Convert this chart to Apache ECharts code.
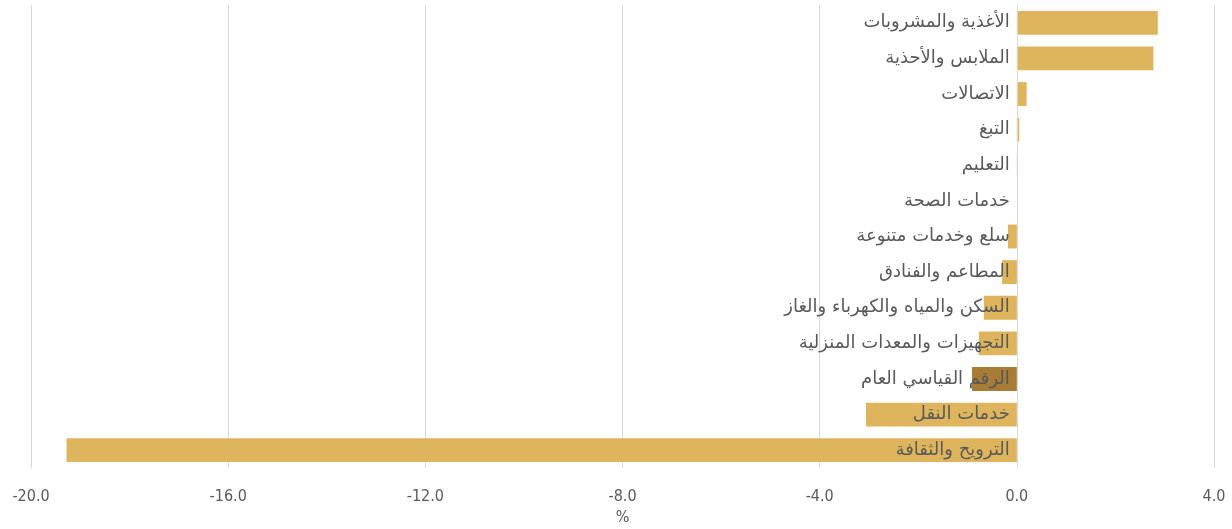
<!DOCTYPE html>
<html><head><meta charset="utf-8">
<script src="https://cdn.jsdelivr.net/npm/echarts@6/dist/echarts.min.js"></script>
<style>html,body{margin:0;padding:0;background:#fff}#c{width:1232px;height:529px}</style>
</head><body><div id="c"></div>
<script>
const categories = ["الأغذية والمشروبات","الملابس والأحذية","الاتصالات","التبغ","التعليم","خدمات الصحة","سلع وخدمات متنوعة","المطاعم والفنادق","السكن والمياه والكهرباء والغاز","التجهيزات والمعدات المنزلية","الرقم القياسي العام","خدمات النقل","الترويح والثقافة"];
const values = [2.86, 2.77, 0.20, 0.05, 0.01, 0, -0.18, -0.30, -0.67, -0.77, -0.91, -3.06, -19.28];
const highlightCategory = "الرقم القياسي العام";
const axisName = "%";
const xMin = -20, xMax = 4;
const W = 1232, gridLeft = 31, gridRight = 18;
const zeroOffset = -((0 - xMin) / (xMax - xMin)) * (W - gridLeft - gridRight);
const chart = echarts.init(document.getElementById('c'));
chart.setOption({
  animation:false,
  grid:{left:gridLeft,right:gridRight,top:5,bottom:61,outerBoundsMode:'none',containLabel:false},
  xAxis:{type:'value',min:xMin,max:xMax,interval:4,name:axisName,nameLocation:'middle',nameGap:32,
    nameTextStyle:{color:'#595959',fontSize:16,fontFamily:'DejaVu Sans Condensed, Liberation Sans Narrow, sans-serif'},
    axisLine:{show:false},axisTick:{show:false},
    axisLabel:{color:'#595959',fontSize:16,margin:21,fontFamily:'DejaVu Sans Condensed, Liberation Sans Narrow, sans-serif',formatter:v=>v.toFixed(1)},
    splitLine:{lineStyle:{color:'#d9d9d9',width:1}}},
  yAxis:{type:'category',data:categories,inverse:true,z:10,position:'left',offset:zeroOffset,
    axisLine:{onZero:false,show:true,lineStyle:{color:'#d9d9d9'}},axisTick:{show:false},
    axisLabel:{color:'#595959',fontSize:18,margin:7,fontFamily:'DejaVu Sans'}},
  series:[{type:'bar',barCategoryGap:'33%',
    data:values.map((v,i)=>({value:v,itemStyle:{color:categories[i]===highlightCategory?'#A67C37':'#DEB55C'}}))}]
});
</script></body></html>
